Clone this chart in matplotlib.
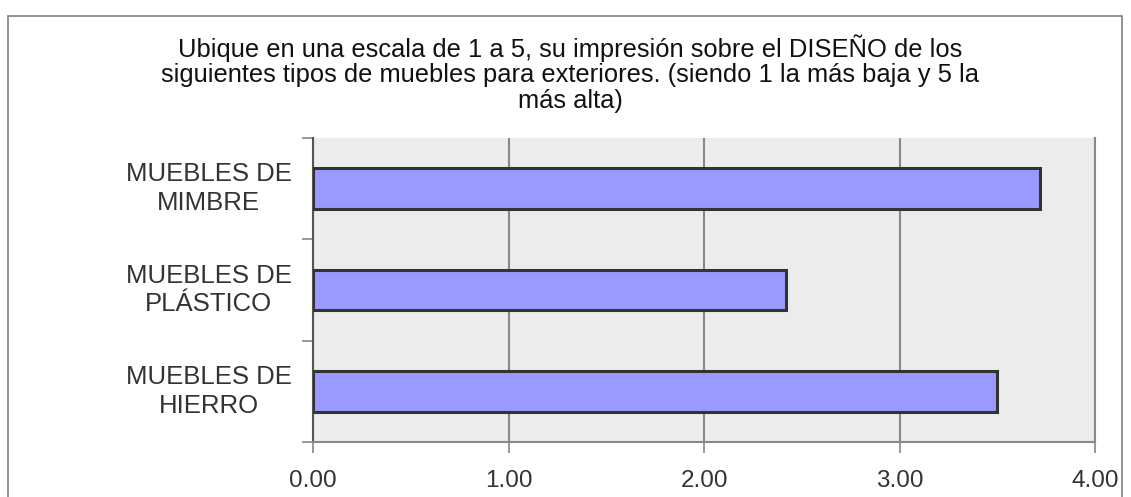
import matplotlib.pyplot as plt
from matplotlib.patches import Rectangle

plt.rcParams['font.family'] = ['Liberation Sans', 'DejaVu Sans']

categorias = ['MUEBLES DE\nHIERRO', 'MUEBLES DE\nPLÁSTICO', 'MUEBLES DE\nMIMBRE']
promedios = [3.50, 2.42, 3.72]
ticks_x = [0, 1, 2, 3, 4]
titulo = ('Ubique en una escala de 1 a 5, su impresión sobre el DISEÑO de los\n'
          'siguientes tipos de muebles para exteriores. (siendo 1 la más baja y 5 la\n'
          'más alta)')

fig = plt.figure(figsize=(11.31, 4.97), dpi=100)
ax = fig.add_axes([313 / 1131, 1 - 442 / 497, (1095 - 313) / 1131, (442 - 138) / 497])

# marco exterior del grafico
fig.patches.append(Rectangle((8 / 1131, -0.1), (1122 - 8) / 1131, 1.1 - 16 / 497,
                             transform=fig.transFigure, fill=False,
                             edgecolor='#808080', linewidth=1.2))

ax.set_facecolor('#ECECEC')
pos = range(len(categorias))
ax.barh(pos, promedios, height=0.4, color='#9999FF', edgecolor='#333333', linewidth=2.2, zorder=3)

ax.set_xlim(0, 4)
ax.set_ylim(-0.5, 2.5)
ax.set_xticks(ticks_x)
ax.set_xticklabels(['%.2f' % t for t in ticks_x], fontsize=17.5, color='#333333')
ax.set_yticks([-0.5, 0.5, 1.5, 2.5])
ax.set_yticklabels([])
for i, c in enumerate(categorias):
    ax.text(-0.1335, i, c, ha='center', va='center', fontsize=18.5, color='#333333',
            multialignment='center', linespacing=1.25, transform=ax.get_yaxis_transform())
ax.tick_params(axis='y', length=8, color='#888888', width=1.2, direction='out')
ax.tick_params(axis='x', length=8, color='#888888', width=1.2, direction='out', pad=12)

ax.xaxis.grid(True, color='#888888', linewidth=1.5, zorder=1)
ax.set_axisbelow(True)
ax.spines['top'].set_visible(False)
for lado in ['right', 'bottom']:
    ax.spines[lado].set_color('#888888')
    ax.spines[lado].set_linewidth(1.5)
ax.spines['left'].set_color('#555555')
ax.spines['left'].set_linewidth(1.5)

fig.text(570 / 1131, 1 - 34 / 497, titulo, ha='center', va='top', fontsize=18.4,
         color='#111111', linespacing=1.08)

fig.savefig('out.png', dpi=100)
